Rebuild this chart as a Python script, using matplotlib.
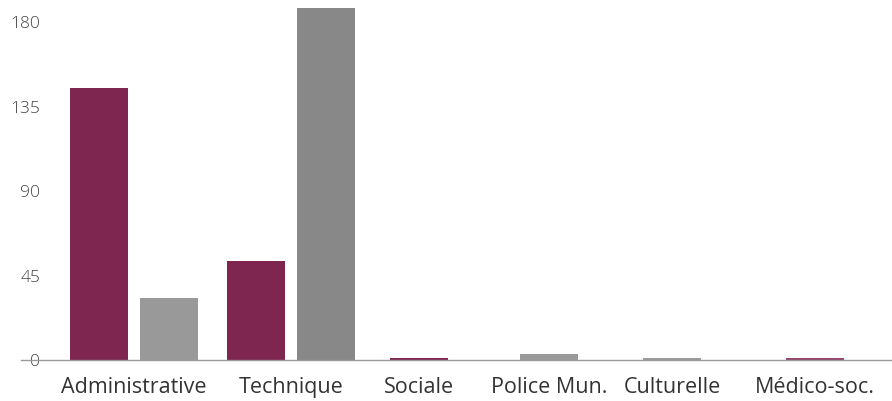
import matplotlib.pyplot as plt
import numpy as np

categories = ['Administrative', 'Technique', 'Sociale', 'Police Mun.', 'Culturelle', 'Médico-soc.']
serie_violet = [145, 53, 1, 0, 0, 1]
serie_gris = [33, 188, 0, 3, 1, 0]
yticks = [0, 45, 90, 135, 180]

# positions des catégories (en pixels depuis le bord gauche de l'axe)
centres = np.array([113, 270, 398, 528, 651, 794])
largeur = 58
decalage = 35

plt.rcParams['font.family'] = ['Open Sans', 'DejaVu Sans']

fig = plt.figure(figsize=(8.92, 4.01), dpi=100)
ax = fig.add_axes([21 / 892, 41 / 401, 871 / 892, 360 / 401])

violet = '#7e2550'
gris = ['#999999', '#888888', '#999999', '#999999', '#9c9c9c', '#999999']
violet_bar = [violet, violet, violet, violet, violet, '#94456c']

for i, cat in enumerate(categories):
    v, g = serie_violet[i], serie_gris[i]
    if v > 0 and g > 0:
        ax.bar(centres[i] - decalage, v, width=largeur, color=violet_bar[i])
        ax.bar(centres[i] + decalage, g, width=largeur, color=gris[i])
    elif v > 0:
        ax.bar(centres[i], v, width=largeur, color=violet_bar[i])
    elif g > 0:
        ax.bar(centres[i], g, width=largeur, color=gris[i])

ax.set_xlim(0, 871)
ax.set_ylim(0, 192)

for s in ['top', 'right', 'left']:
    ax.spines[s].set_visible(False)
ax.spines['bottom'].set_color('#999999')
ax.spines['bottom'].set_linewidth(1)

ax.set_xticks(centres)
ax.set_xticklabels(categories, fontsize=15.5, color='#333333')
ax.tick_params(axis='x', length=0, pad=12)

ax.set_yticks(yticks)
ax.set_yticklabels([str(t) for t in yticks], fontsize=12.5, color='#444444', fontweight='light')
ax.tick_params(axis='y', length=0, pad=-13.7)
for lab in ax.get_yticklabels():
    lab.set_horizontalalignment('right')

fig.savefig('out.png', dpi=100)
